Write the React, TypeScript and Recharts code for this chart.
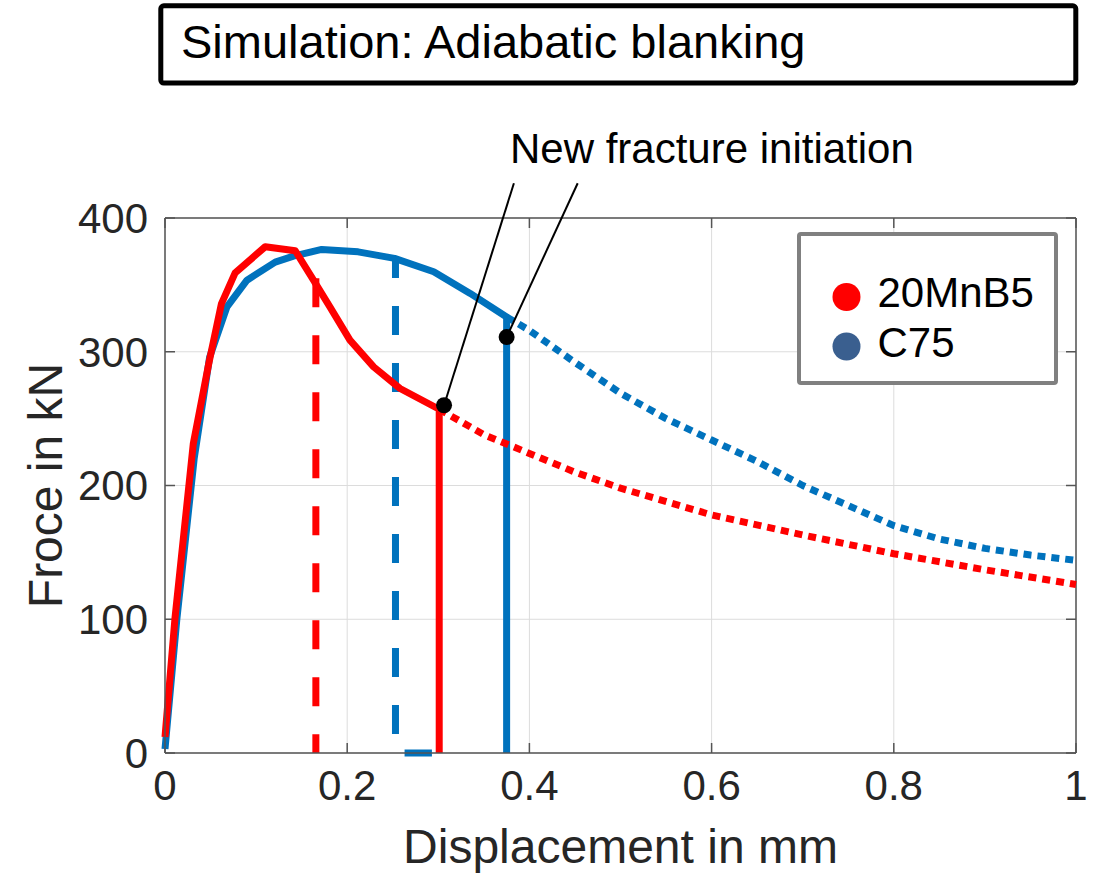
import React from 'react';
import {
  ComposedChart,
  Line,
  XAxis,
  YAxis,
  CartesianGrid,
  ReferenceLine,
  ReferenceDot,
  Legend,
  Label,
} from 'recharts';

// ---------- data ----------
const xTicks = [0, 0.2, 0.4, 0.6, 0.8, 1];
const yTicks = [0, 100, 200, 300, 400];

// 20MnB5 (red)
const mnb5Solid = [
  [0, 12], [0.011, 101], [0.031, 231], [0.048, 291], [0.062, 336], [0.077, 359],
  [0.11, 378.5], [0.143, 375.5], [0.163, 353.5], [0.181, 333.6], [0.203, 308.7],
  [0.229, 288.7], [0.258, 272.5], [0.301, 257], [0.301, 0],
];
const mnb5Dotted = [
  [0.301, 257], [0.35, 238], [0.4, 224], [0.45, 210], [0.5, 198], [0.6, 178],
  [0.7, 163], [0.8, 149], [0.9, 137], [1.0, 126],
];
const mnb5Dashed = [[0.1656, 355], [0.1656, 0]];

// C75 (blue)
const c75Solid = [
  [0, 3], [0.013, 100], [0.032, 220], [0.049, 296], [0.068, 333.6], [0.09, 353.5],
  [0.121, 367], [0.141, 371.5], [0.172, 376.5], [0.212, 374.7], [0.252, 369.8],
  [0.295, 359.8], [0.335, 343.6], [0.375, 326], [0.375, 0],
];
const c75Dotted = [
  [0.375, 326], [0.4, 316], [0.45, 292], [0.5, 269], [0.55, 250], [0.6, 234],
  [0.65, 218], [0.7, 200], [0.75, 185], [0.8, 170], [0.85, 160], [0.9, 153],
  [0.95, 148], [1.0, 144],
];
const c75Dashed = [[0.253, 371], [0.253, 0], [0.293, 0]];

// fracture initiation markers and leader-line ends
const markers = [[0.3063, 260], [0.375, 311]];
const leaderEnds = [[0.383, 426], [0.453, 426]];

const legendNames = ['20MnB5', 'C75'];
const legendColors = ['#FF0000', '#3A5F8F'];

const titleText = 'Simulation: Adiabatic blanking';
const annotationText = 'New fracture initiation';
const xLabel = 'Displacement in mm';
const yLabel = 'Froce in kN';

// ---------- style ----------
const FONT = '"Liberation Sans", Arial, Helvetica, sans-serif';
const RED = '#FF0000';
const BLUE = '#0072BD';
const AXIS = '#555555';
const TXT = '#262626';
const LW = 7;
const TICK_DX = 0.011; // ~10px in x data units
const TICK_DY = 7.5; // ~10px in y data units

const toPts = (a: number[][]) => a.map(([x, y]) => ({ x, y }));

const LegendBox = () => (
  <svg width={261} height={153} style={{ display: 'block', overflow: 'visible' }}>
    <rect x={2} y={2} width={257} height={149} rx={2} fill="#fff" stroke="#808080" strokeWidth={4} />
    {legendNames.map((n, i) => (
      <g key={n}>
        <circle cx={49.5} cy={65 + i * 49.5} r={14} fill={legendColors[i]} />
        <text x={80.5} y={74.5 + i * 50.5} fontSize={42} fontFamily={FONT} fill="#000">
          {n}
        </text>
      </g>
    ))}
  </svg>
);

export default function App() {
  const lineCommon = {
    dataKey: 'y',
    type: 'linear' as const,
    dot: false,
    activeDot: false,
    isAnimationActive: false,
    strokeWidth: LW,
    legendType: 'none' as const,
    strokeLinejoin: 'round' as const,
  };
  return (
    <div
      style={{
        position: 'absolute',
        left: 0,
        top: 0,
        width: 1102,
        height: 877,
        background: '#fff',
        fontFamily: FONT,
      }}
    >
      <ComposedChart
        width={1102}
        height={877}
        margin={{ top: 218, right: 26, bottom: 64, left: 0 }}
        style={{ fontFamily: FONT }}
      >
        <CartesianGrid stroke="#dcdcdc" strokeWidth={1} />
        <XAxis
          type="number"
          dataKey="x"
          domain={[0, 1]}
          ticks={xTicks}
          interval={0}
          height={60}
          tickLine={false}
          tickSize={0}
          tickMargin={17}
          axisLine={{ stroke: AXIS, strokeWidth: 1.5 }}
          tick={{ fontSize: 42, fill: TXT, fontFamily: FONT }}
          tickFormatter={(v: number) => String(v)}
        >
          <Label
            content={(p: any) => {
              const vb = p.viewBox || { x: 165, width: 911 };
              return (
                <text x={vb.x + vb.width / 2} y={863} textAnchor="middle" fontSize={48} fill={TXT} fontFamily={FONT}>
                  {xLabel}
                </text>
              );
            }}
          />
        </XAxis>
        <YAxis
          type="number"
          domain={[0, 400]}
          ticks={yTicks}
          interval={0}
          width={165}
          tickLine={false}
          tickSize={0}
          tickMargin={17}
          axisLine={{ stroke: AXIS, strokeWidth: 1.5 }}
          tick={{ fontSize: 42, fill: TXT, fontFamily: FONT }}
        >
          <Label
            content={(p: any) => {
              const vb = p.viewBox || { y: 218, height: 535 };
              const cy = vb.y + vb.height / 2;
              return (
                <text
                  x={62}
                  y={cy}
                  transform={`rotate(-90, 62, ${cy})`}
                  textAnchor="middle"
                  fontSize={48}
                  fill={TXT}
                  fontFamily={FONT}
                >
                  {yLabel}
                </text>
              );
            }}
          />
        </YAxis>

        {/* box: top and right edges */}
        <ReferenceLine y={400} stroke={AXIS} strokeWidth={1.5} />
        <ReferenceLine x={1} stroke={AXIS} strokeWidth={1.5} />
        {/* inner tick marks */}
        {xTicks.map((t) => (
          <ReferenceLine key={'xb' + t} segment={[{ x: t, y: 0 }, { x: t, y: TICK_DY }]} stroke={AXIS} strokeWidth={1.5} />
        ))}
        {xTicks.map((t) => (
          <ReferenceLine key={'xt' + t} segment={[{ x: t, y: 400 }, { x: t, y: 400 - TICK_DY }]} stroke={AXIS} strokeWidth={1.5} />
        ))}
        {yTicks.map((t) => (
          <ReferenceLine key={'yl' + t} segment={[{ x: 0, y: t }, { x: TICK_DX, y: t }]} stroke={AXIS} strokeWidth={1.5} />
        ))}
        {yTicks.map((t) => (
          <ReferenceLine key={'yr' + t} segment={[{ x: 1, y: t }, { x: 1 - TICK_DX, y: t }]} stroke={AXIS} strokeWidth={1.5} />
        ))}

        {/* C75 */}
        <Line {...lineCommon} data={toPts(c75Solid)} stroke={BLUE} name="C75" />
        <Line
          {...lineCommon}
          data={toPts(c75Dashed)}
          stroke={BLUE}
          strokeDasharray="29 28"
          strokeDashoffset={7.7}
          strokeLinejoin="miter"
          name="C75 dashed"
        />
        <Line {...lineCommon} data={toPts(c75Dotted)} stroke={BLUE} strokeDasharray="8 6" name="C75 dotted" />

        {/* 20MnB5 */}
        <Line {...lineCommon} data={toPts(mnb5Solid)} stroke={RED} name="20MnB5" />
        <Line {...lineCommon} data={toPts(mnb5Dashed)} stroke={RED} strokeDasharray="29 28" name="20MnB5 dashed" />
        <Line {...lineCommon} data={toPts(mnb5Dotted)} stroke={RED} strokeDasharray="8 6" name="20MnB5 dotted" />

        {/* leader lines */}
        {markers.map((m, i) => (
          <ReferenceLine
            key={'ld' + i}
            ifOverflow="visible"
            segment={[{ x: m[0], y: m[1] }, { x: leaderEnds[i][0], y: leaderEnds[i][1] }]}
            stroke="#000"
            strokeWidth={2}
          />
        ))}
        {markers.map((m, i) => (
          <ReferenceDot key={'md' + i} x={m[0]} y={m[1]} r={8} fill="#000" stroke="none" />
        ))}

        <Legend
          layout="vertical"
          align="center"
          verticalAlign="middle"
          wrapperStyle={{ left: 797, top: 232, width: 261, height: 153 }}
          content={() => <LegendBox />}
        />
      </ComposedChart>

      <svg
        width={1102}
        height={877}
        style={{ position: 'absolute', left: 0, top: 0, pointerEvents: 'none' }}
      >
        <rect x={160.8} y={5.8} width={915} height={77.2} rx={3} fill="none" stroke="#000" strokeWidth={5} />
        <text x={181} y={58} fontSize={47} fontFamily={FONT} fill="#000">
          {titleText}
        </text>
        <text x={510} y={163} fontSize={42} fontFamily={FONT} fill="#000">
          {annotationText}
        </text>
      </svg>
    </div>
  );
}
